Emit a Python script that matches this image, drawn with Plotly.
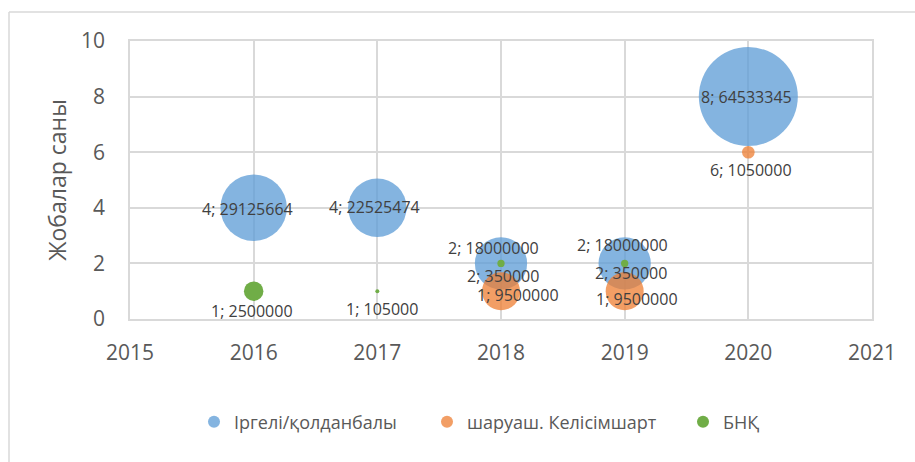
import plotly.graph_objects as go

# ---- data ----
years_blue = [2016, 2017, 2018, 2019, 2020]
count_blue = [4, 4, 2, 2, 8]
amount_blue = [29125664, 22525474, 18000000, 18000000, 64533345]

years_orange = [2018, 2019, 2020]
count_orange = [1, 1, 6]
amount_orange = [9500000, 9500000, 1050000]

years_green = [2016, 2017, 2018, 2019]
count_green = [1, 1, 2, 2]
amount_green = [2500000, 105000, 350000, 350000]

series_names = ["Іргелі/қолданбалы", "шаруаш. Келісімшарт", "БНҚ"]
x_ticks = [2015, 2016, 2017, 2018, 2019, 2020, 2021]
y_ticks = [0, 2, 4, 6, 8, 10]

# ---- styling / label placement (pixel offsets) ----
colors = ["rgba(91,155,213,0.75)", "rgba(237,125,49,0.75)", "rgb(112,173,71)"]
label_shift_blue = [(-6, -1), (-3, 1), (-8, 15), (-2, 18), (-2, 0)]
label_shift_orange = [(17, -4), (12, -8), (3, -18)]
label_shift_green = [(-2, -20), (5, -18), (2, -13), (6, -10)]
legend_ids = ["legend", "legend2", "legend3"]
legend_left_px = [194, 427, 683]

PL, PR, PT, PB = 130, 872, 41, 319
PW, PH = PR - PL, PB - PT

max_amount = max(amount_blue + amount_orange + amount_green)
max_diam = 99
sizeref = 2.0 * max_amount / (max_diam ** 2)

fig = go.Figure()
series = [
    (years_blue, count_blue, amount_blue, label_shift_blue),
    (years_orange, count_orange, amount_orange, label_shift_orange),
    (years_green, count_green, amount_green, label_shift_green),
]
annotations = []
for (xs, ys, ss, shifts), name, col, lg in zip(series, series_names, colors, legend_ids):
    fig.add_trace(go.Scatter(
        x=xs, y=ys, mode="markers", name=name, legend=lg,
        marker=dict(size=ss, sizemode="area", sizeref=sizeref, sizemin=1,
                    color=col, opacity=1, line=dict(width=0)),
        hoverinfo="skip",
    ))
    for x, y, s, (dx, dy) in zip(xs, ys, ss, shifts):
        annotations.append(dict(
            x=x, y=y, xref="x", yref="y", text=f"{y}; {s}", showarrow=False,
            xshift=dx, yshift=dy,
            font=dict(family="Open Sans", size=16, color="#404040"),
        ))

# chart border (left and top edges)
bx = (9 - PL) / PW
by = 1 + (PT - 12) / PH
shapes = [
    dict(type="line", xref="paper", yref="paper", x0=bx, x1=bx, y0=by, y1=-1.0,
         line=dict(color="#d9d9d9", width=1.5)),
    dict(type="line", xref="paper", yref="paper", x0=bx, x1=1.2, y0=by, y1=by,
         line=dict(color="#d9d9d9", width=1.5)),
]

legend_y = 1 - (422 - PT) / PH
legend_common = dict(orientation="h", yanchor="middle", xanchor="left", y=legend_y,
                     font=dict(family="Open Sans", size=18, color="#595959"),
                     itemsizing="constant", bgcolor="rgba(0,0,0,0)")
layout_legends = {}
for lg, px in zip(legend_ids, legend_left_px):
    layout_legends[lg] = dict(legend_common, x=(px - PL) / PW)

fig.update_layout(
    width=915, height=462,
    margin=dict(l=PL, r=915 - PR, t=PT, b=462 - PB),
    paper_bgcolor="white", plot_bgcolor="white",
    showlegend=True,
    annotations=annotations,
    shapes=shapes,
    font=dict(family="Open Sans", color="#595959"),
    **layout_legends,
)
fig.update_xaxes(
    range=[2015, 2021], tickvals=x_ticks, ticktext=[str(t) for t in x_ticks],
    showgrid=True, gridcolor="#d9d9d9", gridwidth=1.5,
    showline=True, linecolor="#d9d9d9", linewidth=1.5, mirror=True,
    zeroline=False, ticks="", ticklabelstandoff=14,
    tickfont=dict(family="Open Sans", size=21, color="#595959"),
)
fig.update_yaxes(
    range=[0, 10], tickvals=y_ticks,
    showgrid=True, gridcolor="#d9d9d9", gridwidth=1.5,
    showline=True, linecolor="#d9d9d9", linewidth=1.5, mirror=True,
    zeroline=False, ticks="", ticklabelstandoff=19,
    tickfont=dict(family="Open Sans", size=21, color="#595959"),
    title=dict(text="Жобалар саны", font=dict(family="Open Sans", size=23, color="#595959"),
               standoff=8),
)

fig.write_html("out.html")
